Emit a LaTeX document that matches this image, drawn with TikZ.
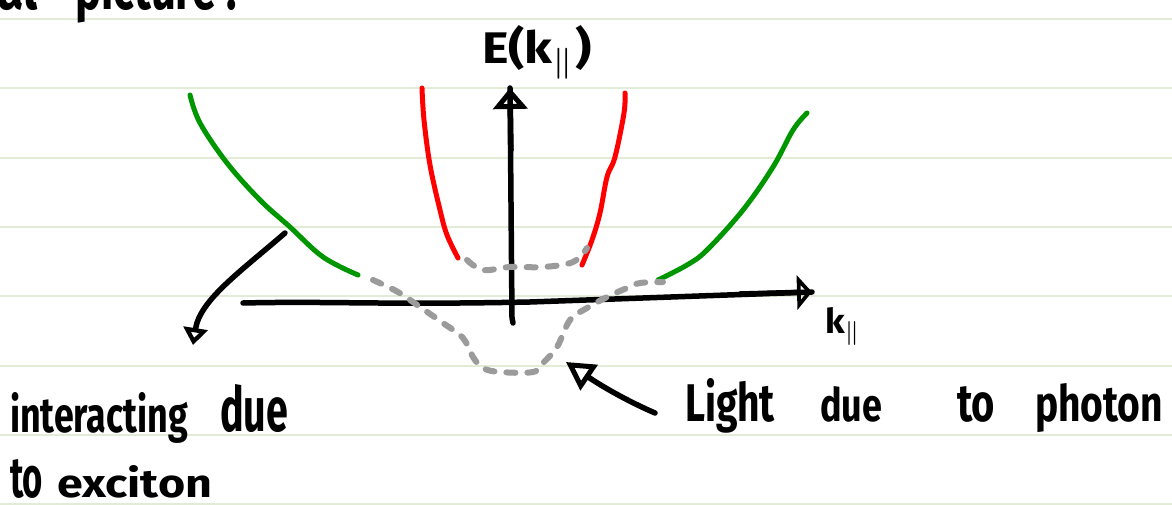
\documentclass[tikz,border=0pt]{standalone}
\usepackage{fontspec}
\setmainfont{Fira Sans}
\usetikzlibrary{arrows.meta}
\newcommand{\hw}[3]{\resizebox{#1pt}{#2pt}{\bfseries #3}}
\definecolor{rulecol}{RGB}{226,235,214}
\definecolor{pgreen}{RGB}{0,150,0}
\definecolor{pred}{RGB}{255,0,0}
\definecolor{pgray}{RGB}{155,155,155}
\begin{document}
\begin{tikzpicture}[x=1pt,y=-1pt,
  ruling/.style={rulecol, line width=2pt},
  ink/.style={black, line width=5.5pt, line cap=round, line join=round},
  greencurve/.style={pgreen, line width=5pt, line cap=round, line join=round},
  redcurve/.style={pred, line width=5pt, line cap=round, line join=round},
  graycurve/.style={pgray, line width=6pt, line cap=round, line join=round, dash pattern=on 9pt off 12pt},
  word/.style={anchor=base west, inner sep=0pt, outer sep=0pt}
]
\useasboundingbox (0,0) rectangle (1172,505);
\clip (0,0) rectangle (1172,505);
\fill[white] (0,0) rectangle (1172,505);
\foreach \y in {19,88,158,227,296,366,435,504} \draw[ruling] (0,\y) -- (1172,\y);

% top clipped text
\node[word] (t1) at (-2,10) {\hw{40}{48}{al}};
\node[word] (t2) at (75,10) {\hw{162}{50}{picture :}};

% axes
\coordinate (yb) at (513,323);
\coordinate (yt) at (510,88);
\coordinate (xl) at (243,303);
\coordinate (xm) at (530,302);
\coordinate (xr) at (812,292);
\draw[ink] (yb) -- (512,318) -- (yt);
\draw[ink, -{Triangle[open, length=21pt, width=34pt, line width=5pt]}] (511,150) -- (yt);
\draw[ink] (xl) .. controls (330,301) and (380,305) .. (xm) -- (xr);
\draw[ink, -{Triangle[open, length=15pt, width=34pt, line width=5pt]}] (740,294) -- (xr);

\node[word] (E) at (482,64) {\hw{110}{38}{E(k$_{\parallel}$)}};
\node[word] (k) at (825,333) {\hw{36}{26}{k$_{\parallel}$}};

% curves
\draw[greencurve] plot[smooth, tension=0.6] coordinates {(190,95) (200,123) (227,163) (260,200) (290,227) (323,257) (358,275)};
\draw[greencurve] plot[smooth, tension=0.6] coordinates {(807,113) (793,130) (773,167) (743,210) (707,250) (687,265) (658,280)};
\draw[redcurve] plot[smooth, tension=0.6] coordinates {(422,88) (424,120) (430,165) (440,210) (447,235) (458,258)};
\draw[redcurve] plot[smooth, tension=0.6] coordinates {(625,93) (624,113) (615,157) (607,177) (600,213) (592,240) (582,265)};
\draw[graycurve] plot[smooth, tension=0.6] coordinates {(467,260) (483,270) (510,267) (543,267) (573,262) (587,248)};
\draw[graycurve] plot[smooth, tension=0.6] coordinates {(373,280) (398,292) (420,307) (443,323) (463,338) (473,357) (483,368) (500,372) (533,372) (543,363) (557,347) (570,320) (587,308) (607,297) (627,288) (640,283) (663,282)};

% pointer arrows
\coordinate (pa) at (285,233);
\coordinate (pb) at (193,345);
\draw[ink, -{Triangle[open, length=17pt, width=24pt, line width=5pt]}] (pa) .. controls (240,272) and (200,300) .. (pb);
\coordinate (qa) at (655,413);
\coordinate (qb) at (566,362);
\draw[ink, -{Triangle[open, length=28pt, width=30pt, line width=5pt]}] (qa) .. controls (625,400) and (600,385) .. (qb);

% labels
\node[word] (w1) at (10,432) {\hw{178}{40}{interacting}};
\node[word] (w2) at (220,431) {\hw{68}{47}{due}};
\node[word] (w3) at (10,497) {\hw{33}{38}{to}};
\node[word] (w4) at (57,497) {\hw{155}{32}{exciton}};
\node[word] (w5) at (685,421) {\hw{90}{43}{Light}};
\node[word] (w6) at (820,421) {\hw{62}{35}{due}};
\node[word] (w7) at (957,421) {\hw{38}{35}{to}};
\node[word] (w8) at (1035,421) {\hw{128}{38}{photon}};
\end{tikzpicture}
\end{document}
